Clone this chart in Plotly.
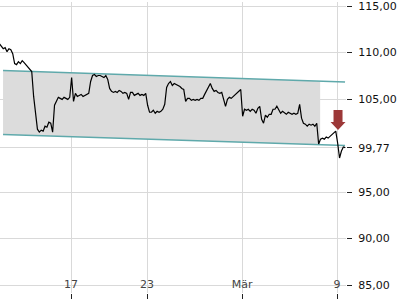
import numpy as np
import plotly.graph_objects as go

# Trading-day index (0 = 17 Feb); each session sampled at 10 evenly spaced intraday times
day_index = [-4, -3, -2, -1, 0, 1, 2, 3, 4, 5, 6, 7, 8, 9, 10, 11, 12, 13, 14]
day_prices = [
    [110.94, 110.84, 110.94, 110.73, 110.41, 110.52, 110.09, 110.41, 110.30, 109.88],
    [108.81, 108.70, 109.02, 108.81, 109.13, 108.92, 108.70, 108.49, 108.27, 107.96],
    [105.28, 103.68, 101.76, 101.44, 101.65, 101.55, 102.08, 101.97, 102.51, 102.40],
    [101.44, 104.33, 104.75, 105.18, 105.07, 104.96, 105.18, 105.07, 104.96, 105.18],
    [107.31, 104.75, 105.61, 105.28, 105.39, 105.50, 105.28, 105.39, 105.50, 105.61],
    [106.89, 107.53, 107.63, 107.42, 107.53, 107.53, 107.42, 107.31, 107.53, 107.10],
    [106.14, 105.82, 105.71, 105.82, 105.71, 105.93, 105.82, 105.61, 105.71, 105.61],
    [104.96, 105.71, 105.71, 105.39, 105.50, 105.61, 105.39, 105.50, 105.39, 105.61],
    [104.33, 103.58, 103.58, 103.79, 103.47, 103.68, 103.58, 103.68, 103.90, 104.43],
    [106.25, 106.67, 106.89, 106.46, 106.67, 106.57, 106.46, 106.35, 106.14, 106.03],
    [104.75, 105.07, 105.07, 104.86, 104.96, 104.86, 104.96, 104.86, 105.07, 105.07],
    [105.50, 105.93, 106.25, 106.67, 106.14, 105.82, 105.93, 105.71, 105.61, 105.71],
    [104.96, 104.22, 104.96, 105.18, 105.07, 105.28, 105.50, 105.61, 105.82, 106.03],
    [103.15, 103.90, 103.79, 103.90, 103.68, 103.90, 103.79, 103.47, 104.00, 104.22],
    [102.83, 102.40, 103.26, 103.04, 103.36, 103.36, 103.90, 103.90, 104.22, 103.90],
    [103.47, 103.68, 103.47, 103.36, 103.58, 103.47, 103.36, 103.47, 103.36, 103.47],
    [104.43, 102.94, 102.40, 102.30, 102.08, 102.30, 102.19, 102.30, 102.08, 102.40],
    [100.16, 100.69, 100.80, 100.69, 100.91, 100.80, 101.01, 101.12, 101.33, 101.55],
    [100.27, 98.66, 99.41, 99.84, 99.77],
]

# Trend channel
chan_x = [-3.58, 14.42]
chan_upper = [108.06, 106.83]
chan_lower = [101.20, 100.00]
band_end = 13.11

# Sell signal marker
signal_x = 14.05
signal_y = 101.66

# Axes
x_range = [-3.74, 14.47]
y_range = [84.15, 115.43]
x_tickvals = [0, 4, 9, 14]
x_ticktext = ["17", "23", "Mär", "9"]
y_tickvals = [85, 90, 95, 99.77, 105, 110, 115]
y_ticktext = ["85,00", "90,00", "95,00", "99,77", "105,00", "110,00", "115,00"]

xs, ys = [], []
for d, prices in zip(day_index, day_prices):
    for i, p in enumerate(prices):
        xs.append(d + 0.03 + i * 0.1)
        ys.append(p)

fig = go.Figure()

bx = [chan_x[0], band_end]
bu = np.interp(bx, chan_x, chan_upper)
bl = np.interp(bx, chan_x, chan_lower)
fig.add_trace(go.Scatter(
    x=[bx[0], bx[1], bx[1], bx[0], bx[0]],
    y=[bu[0], bu[1], bl[1], bl[0], bu[0]],
    fill="toself", fillcolor="#dcdcdc", mode="lines", line=dict(width=0),
    hoverinfo="skip", showlegend=False))

for vals in (chan_upper, chan_lower):
    fig.add_trace(go.Scatter(x=chan_x, y=vals, mode="lines",
                             line=dict(color="#5fa9ab", width=1.5),
                             showlegend=False, hoverinfo="skip"))

fig.add_trace(go.Scatter(x=xs, y=ys, mode="lines",
                         line=dict(color="#000000", width=1.2),
                         showlegend=False))

fig.add_shape(type="path", xref="x", yref="y", xsizemode="pixel", ysizemode="pixel",
              xanchor=signal_x, yanchor=signal_y,
              path="M0,0 L-7.5,8 L-4.5,8 L-4.5,20 L4.5,20 L4.5,8 L7.5,8 Z",
              fillcolor="#9c3838", line=dict(width=0))

fig.update_layout(
    width=400, height=300,
    margin=dict(l=0, r=54, t=0, b=7),
    paper_bgcolor="white", plot_bgcolor="white",
    font=dict(family="DejaVu Sans", size=11, color="#111111"),
    xaxis=dict(range=x_range, tickvals=x_tickvals, ticktext=x_ticktext,
               showgrid=True, gridcolor="#d9d9d9", gridwidth=1,
               ticks="outside", ticklen=5, tickcolor="#222222",
               ticklabelposition="inside", ticklabeloverflow="allow",
               zeroline=False, showline=False, fixedrange=True),
    yaxis=dict(range=y_range, side="right", tickvals=y_tickvals, ticktext=y_ticktext,
               showgrid=True, gridcolor="#d9d9d9", gridwidth=1,
               ticks="outside", ticklen=5, tickcolor="#222222",
               ticklabelstandoff=4, ticklabeloverflow="allow",
               zeroline=False, showline=False, fixedrange=True),
)

fig.write_html("out.html")
